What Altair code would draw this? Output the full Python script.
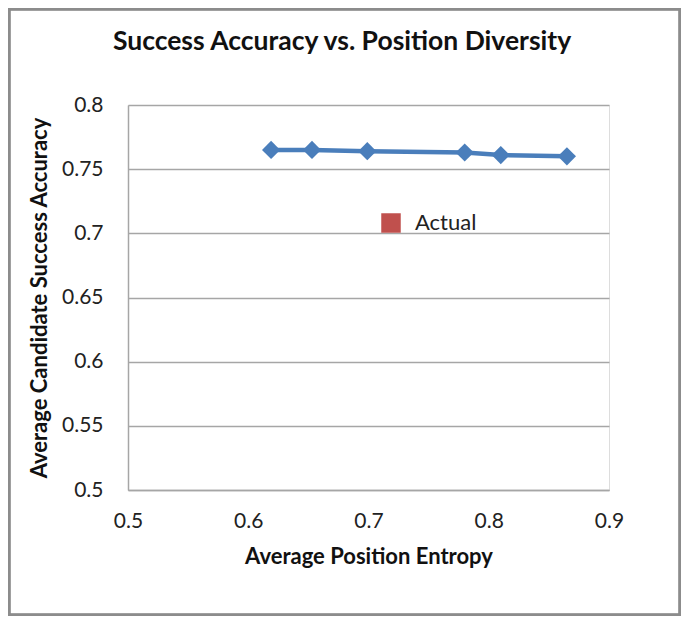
import altair as alt
import pandas as pd

# Data
entropy = [0.619, 0.653, 0.699, 0.780, 0.810, 0.865]
accuracy = [0.765, 0.765, 0.764, 0.763, 0.761, 0.760]
legend_labels = ["Actual"]
chart_title = ["Success Accuracy vs. Position Diversity"]

x_ticks = [0.5, 0.6, 0.7, 0.8, 0.9]
y_ticks = [0.5, 0.55, 0.6, 0.65, 0.7, 0.75, 0.8]

FONT = "Lato"
BLUE = "#4A7EBB"
RED = "#C0504D"
GRID = "#A6A6A6"

df = pd.DataFrame({"entropy": entropy, "accuracy": accuracy})
leg_df = pd.DataFrame({"series": legend_labels, "entropy": [None], "accuracy": [None]})
title_df = pd.DataFrame({"t": chart_title})

x_enc = alt.X(
    "entropy:Q",
    scale=alt.Scale(domain=[0.5, 0.9], nice=False, zero=False),
    axis=alt.Axis(
        title="Average Position Entropy",
        values=x_ticks,
        format=".1~f",
        grid=False,
        ticks=False,
        tickSize=0,
        labelFlush=False,
        domainColor=GRID,
        domainWidth=1.5,
        labelFont=FONT,
        labelFontSize=21,
        labelColor="#222222",
        labelPadding=20,
        titleFont=FONT,
        titleFontSize=22,
        titleFontWeight="bold",
        titleColor="#111111",
        titlePadding=15,
    ),
)
y_enc = alt.Y(
    "accuracy:Q",
    scale=alt.Scale(domain=[0.5, 0.8], nice=False, zero=False),
    axis=alt.Axis(
        title="Average Candidate Success Accuracy",
        values=y_ticks,
        format="~g",
        grid=True,
        gridColor=GRID,
        gridWidth=1.5,
        ticks=False,
        tickSize=0,
        labelFlush=False,
        domainColor=GRID,
        domainWidth=1.5,
        labelFont=FONT,
        labelFontSize=21,
        labelColor="#222222",
        labelPadding=25,
        titleFont=FONT,
        titleFontSize=22,
        titleFontWeight="bold",
        titleColor="#111111",
        titlePadding=10,
    ),
)

line = alt.Chart(df).mark_line(color=BLUE, strokeWidth=4.5).encode(x=x_enc, y=y_enc)
pts = alt.Chart(df).mark_point(
    shape="diamond", filled=True, size=330, color=BLUE, opacity=1
).encode(x="entropy:Q", y="accuracy:Q")

legend_layer = alt.Chart(leg_df).mark_square(opacity=1).encode(
    x="entropy:Q",
    y="accuracy:Q",
    color=alt.Color(
        "series:N",
        scale=alt.Scale(domain=legend_labels, range=[RED]),
        legend=alt.Legend(
            title=None,
            orient="none",
            legendX=252,
            legendY=107,
            symbolType="square",
            symbolSize=380,
            symbolStrokeWidth=0,
            symbolOpacity=1,
            labelFont=FONT,
            labelFontSize=22,
            labelColor="#222222",
            labelOffset=13,
        ),
    ),
)

title_layer = alt.Chart(title_df).mark_text(
    font=FONT, fontSize=26.5, fontWeight="bold", color="#111111",
    align="center", baseline="alphabetic",
).encode(text="t:N", x=alt.value(214), y=alt.value(-55))

border = alt.Chart(df).mark_rect(
    fill=None, stroke="#8C8C8C", strokeWidth=2.5
).encode(
    x=alt.value(-119), x2=alt.value(552), y=alt.value(-96), y2=alt.value(510)
)

chart = (
    alt.layer(border, line, pts, legend_layer, title_layer)
    .properties(
        width=481,
        height=385,
        autosize=alt.AutoSizeParams(type="none"),
        padding={"left": 120, "top": 97, "right": 72, "bottom": 126},
    )
    .configure_view(stroke=None)
    .configure(background="white")
)

chart.save("out.html", embed_options={"renderer": "svg", "actions": False})
